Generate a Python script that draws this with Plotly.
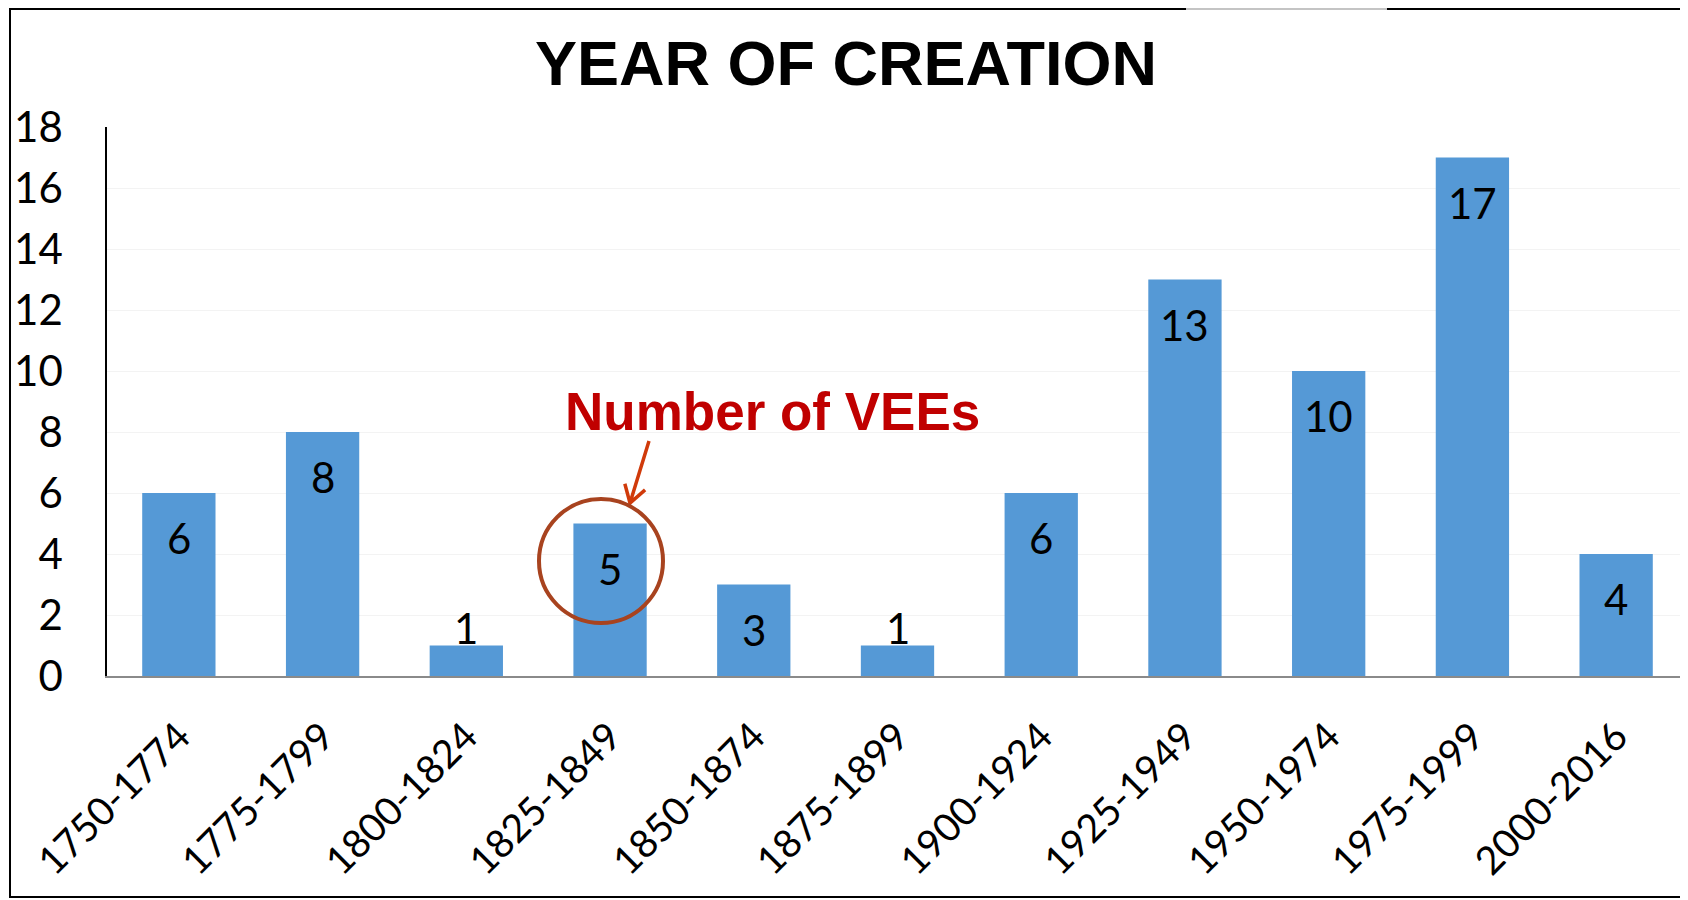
import math
import plotly.graph_objects as go

periods = ["1750-1774", "1775-1799", "1800-1824", "1825-1849", "1850-1874", "1875-1899",
           "1900-1924", "1925-1949", "1950-1974", "1975-1999", "2000-2016"]
counts = [6, 8, 1, 5, 3, 1, 6, 13, 10, 17, 4]
y_ticks = [0, 2, 4, 6, 8, 10, 12, 14, 16, 18]

# the page body keeps an 8px margin, so screen positions are shifted by that much
OFF = 8
W, H = 1688 - OFF, 900 - OFF
L, R, T, B = 107 - OFF, 0, 127 - OFF, 900 - 676
plot_w, plot_h = W - L - R, H - T - B

BLUE = "#5599d6"
FONT = "Lato, 'Open Sans', sans-serif"
TICK_FONT = dict(family=FONT, size=42, color="black")


def px_x(px):
    # screen pixel -> paper x
    return (px - OFF - L) / plot_w


def px_y(py):
    # screen pixel -> paper y
    return 1 - (py - OFF - T) / plot_h


fig = go.Figure(go.Bar(x=periods, y=counts, marker=dict(color=BLUE, line=dict(width=0)), hoverinfo="x+y"))

# value labels: inside near the top for tall bars, just above for short ones
for period, value in zip(periods, counts):
    inside = value >= 2
    fig.add_annotation(x=period, y=value, text=str(value), showarrow=False, font=TICK_FONT,
                       yanchor="middle", yshift=-45 if inside else 18)

# callout text, open-headed arrow and circle around the 1825-1849 bar
fig.add_annotation(x=px_x(772), y=px_y(411), xref="paper", yref="paper", text="<b>Number of VEEs</b>",
                   showarrow=False, font=dict(family="Liberation Sans, Arial, sans-serif", size=53, color="#c00000"))
tail, head = (649, 441), (630, 503)
dx, dy = tail[0] - head[0], tail[1] - head[1]
n = math.hypot(dx, dy)
dx, dy = dx / n, dy / n
wings = []
for ang in (math.radians(32), math.radians(-32)):
    wx = dx * math.cos(ang) - dy * math.sin(ang)
    wy = dx * math.sin(ang) + dy * math.cos(ang)
    wings.append((head[0] + 20 * wx, head[1] + 20 * wy))
pts = lambda p: f"{px_x(p[0])},{px_y(p[1])}"
arrow_path = (f"M {pts(tail)} L {pts(head)} M {pts(wings[0])} L {pts(head)} L {pts(wings[1])}")
fig.add_shape(type="path", xref="paper", yref="paper", path=arrow_path,
              line=dict(color="#d03a0a", width=3.5))
fig.add_shape(type="circle", xref="paper", yref="paper",
              x0=px_x(601 - 62), x1=px_x(601 + 62), y0=px_y(561 + 62), y1=px_y(561 - 62),
              line=dict(color="#a8431f", width=4))

# outer frame of the slide
fig.add_shape(type="rect", xref="paper", yref="paper", x0=px_x(10), x1=px_x(1700), y0=px_y(897), y1=px_y(OFF + 1),
              line=dict(color="black", width=2), layer="above")
fig.add_shape(type="line", xref="paper", yref="paper", x0=px_x(1186), x1=px_x(1387), y0=px_y(OFF + 1), y1=px_y(OFF + 1),
              line=dict(color="#c4c4c4", width=2), layer="above")

fig.update_layout(
    width=W, height=H,
    margin=dict(l=L, r=R, t=T, b=B),
    plot_bgcolor="white", paper_bgcolor="white",
    bargap=0.49,
    showlegend=False,
    title=dict(text="<b>YEAR OF CREATION</b>", x=px_x(846), xref="paper", xanchor="center",
               y=1 - (63 - OFF) / H, yanchor="middle",
               font=dict(family="Liberation Sans, Arial, sans-serif", size=63, color="black")),
)
fig.update_xaxes(tickangle=-45, tickfont=dict(family=FONT, size=39, color="black"), showline=True,
                 linecolor="#8a8a8a", linewidth=2, showgrid=False, ticks="", ticklabelstandoff=20)
fig.update_yaxes(range=[0, 18], tickvals=y_ticks, tickfont=TICK_FONT, showline=True, linecolor="black",
                 linewidth=1.5, showgrid=True, gridcolor="#f3f3f3", zeroline=False, ticks="",
                 ticklabelstandoff=34)

fig.write_html("out.html")
